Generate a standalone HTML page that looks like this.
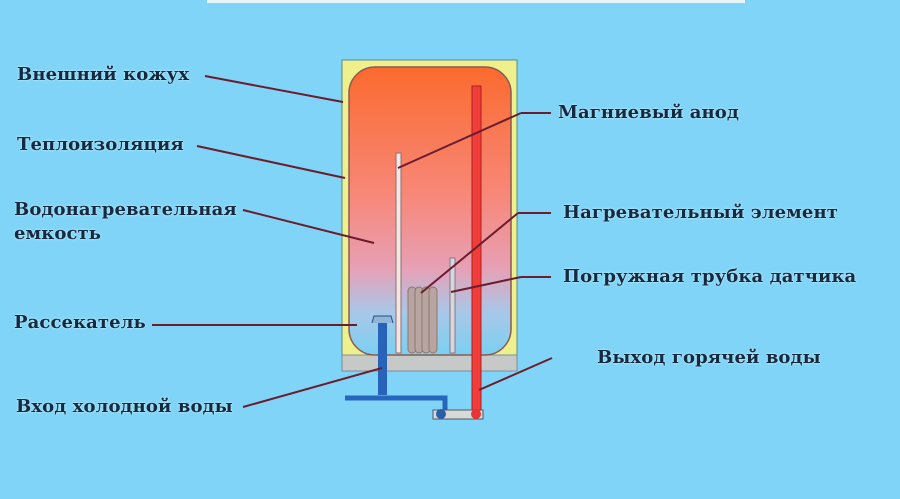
<!DOCTYPE html>
<html><head><meta charset="utf-8"><style>
body{margin:0;width:900px;height:499px;overflow:hidden;background:#7fd4f7;font-family:"Liberation Serif",serif;}
.t{position:absolute;font-family:"DejaVu Serif",serif;font-weight:bold;font-size:18px;letter-spacing:0.1px;color:#132a40;line-height:24px;white-space:nowrap;text-shadow:0 0 2px #dff4fb;}
</style></head><body>
<div style="position:absolute;left:207px;top:0;width:538px;height:3px;background:#e8f6fb"></div>
<svg width="900" height="499" style="position:absolute;left:0;top:0">
<defs>
<linearGradient id="g" x1="0" y1="0" x2="0" y2="1">
<stop offset="0" stop-color="#fb6a2e"/><stop offset="0.45" stop-color="#f7887a"/>
<stop offset="0.7" stop-color="#e7a0b6"/><stop offset="0.85" stop-color="#a9c7e8"/><stop offset="1" stop-color="#7ad0f2"/></linearGradient>
</defs>
<rect x="342" y="60" width="175" height="300" fill="#eef08e" stroke="#5a8a8a" stroke-width="1"/>
<rect x="342" y="355" width="175" height="16" fill="#c7c9c9" stroke="#7a8f95" stroke-width="1"/>
<rect x="349" y="67" width="162" height="288" rx="26" fill="url(#g)" stroke="#8a5a50" stroke-width="1.5"/>
<rect x="396" y="153" width="5" height="200" fill="#f4e6e2" stroke="#8a7070" stroke-width="1"/>
<g fill="#b8a4a0" stroke="#8c7670" stroke-width="1">
<rect x="408" y="287" width="8" height="66" rx="4"/><rect x="415" y="287" width="8" height="66" rx="4"/>
<rect x="422" y="287" width="8" height="66" rx="4"/><rect x="429" y="287" width="8" height="66" rx="4"/>
</g>
<rect x="450" y="258" width="5" height="95" fill="#dcd6dc" stroke="#7a7a8a" stroke-width="1"/>
<rect x="472" y="86" width="9" height="332" fill="#ef3d3a" stroke="#b01e1e" stroke-width="1"/>
<rect x="378" y="320" width="9" height="75" fill="#2763b8"/>
<path d="M372 323 L374 316 L391 316 L393 323" fill="#8fb6d9" stroke="#2a4a7a"/>
<path d="M345 398 H445 V418" fill="none" stroke="#2766bf" stroke-width="5"/>
<rect x="433" y="410" width="50" height="9" fill="#d8dada" stroke="#556" stroke-width="1"/>
<circle cx="476" cy="414" r="5" fill="#e33"/>
<circle cx="441" cy="414" r="5" fill="#2a5fa8"/>
<g stroke="#6b1d2d" stroke-width="2" fill="none">
<line x1="205" y1="76" x2="343" y2="102"/>
<line x1="197" y1="146" x2="345" y2="178"/>
<line x1="243" y1="210" x2="374" y2="243"/>
<line x1="152" y1="325" x2="357" y2="325"/>
<line x1="243" y1="407" x2="382" y2="368"/>
<line x1="398" y1="168" x2="521" y2="113"/>
<line x1="421" y1="293" x2="518" y2="213"/>
<line x1="451" y1="292" x2="521" y2="277"/>
<line x1="479" y1="390" x2="552" y2="358"/>
<line x1="521" y1="113" x2="551" y2="113"/><line x1="518" y1="213" x2="551" y2="213"/><line x1="521" y1="277" x2="551" y2="277"/>
</g>
</svg>
<div class="t" style="left:17px;top:63px">Внешний кожух</div>
<div class="t" style="left:17px;top:133px">Теплоизоляция</div>
<div class="t" style="left:14px;top:198px">Водонагревательная<br>емкость</div>
<div class="t" style="left:14px;top:311px">Рассекатель</div>
<div class="t" style="left:16px;top:395px">Вход холодной воды</div>
<div class="t" style="left:558px;top:101px">Магниевый анод</div>
<div class="t" style="left:563px;top:201px">Нагревательный элемент</div>
<div class="t" style="left:563px;top:265px">Погружная трубка датчика</div>
<div class="t" style="left:597px;top:346px">Выход горячей воды</div>
</body></html>
